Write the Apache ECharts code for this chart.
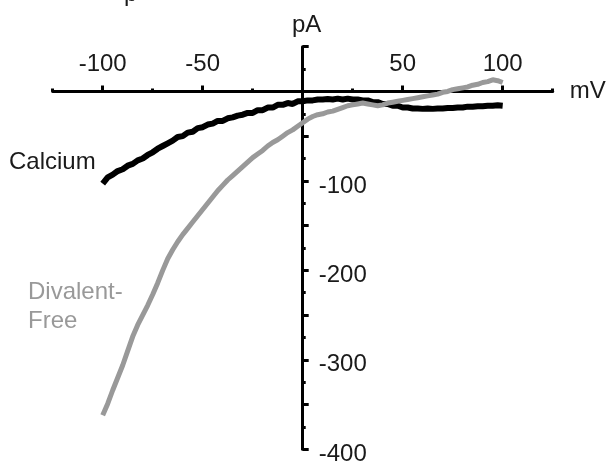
<!DOCTYPE html>
<html>
<head>
<meta charset="utf-8">
<script src="https://cdn.jsdelivr.net/npm/echarts@6/dist/echarts.min.js"></script>
<style>
  html, body { margin: 0; padding: 0; background: #fff; }
  #chart { width: 616px; height: 461px; }
</style>
</head>
<body>
<div id="chart"></div>
<script>
// membrane potential (mV), one sample every 2.5 mV
const volts = [
  -100, -97.5, -95, -92.5, -90, -87.5, -85, -82.5, -80, -77.5,
  -75, -72.5, -70, -67.5, -65, -62.5, -60, -57.5, -55, -52.5,
  -50, -47.5, -45, -42.5, -40, -37.5, -35, -32.5, -30, -27.5,
  -25, -22.5, -20, -17.5, -15, -12.5, -10, -7.5, -5, -2.5,
  0, 2.5, 5, 7.5, 10, 12.5, 15, 17.5, 20, 22.5,
  25, 27.5, 30, 32.5, 35, 37.5, 40, 42.5, 45, 47.5,
  50, 52.5, 55, 57.5, 60, 62.5, 65, 67.5, 70, 72.5,
  75, 77.5, 80, 82.5, 85, 87.5, 90, 92.5, 95, 97.5, 100
];

// current (pA)
const calcium = [
  -103, -96, -93, -89, -87, -83, -81, -77, -75, -71,
  -68, -64, -61, -58, -55, -51, -50, -46, -45, -41,
  -40, -37, -36, -33, -33, -30, -29, -27, -26, -24,
  -24, -21, -21, -18, -18, -15, -15, -13, -14, -11,
  -11, -10, -10, -9, -9, -8.5, -9, -8, -9, -8,
  -9, -9, -10, -10, -12, -12, -14, -14, -16, -16,
  -18, -18, -19, -19, -19.5, -19, -19.5, -19, -19, -18.5,
  -18.5, -18, -18, -17, -17, -16.5, -16.5, -16, -16, -15.5, -16
];

const divalentFree = [
  -362, -349, -334, -320, -306, -290, -274, -261, -250, -239,
  -227, -214, -200, -187, -177, -168, -160, -153, -146, -139,
  -132, -125, -118, -111, -105, -99, -94, -89, -84, -79,
  -74, -70, -66, -61, -57, -54, -50, -46, -43, -39,
  -35, -31, -28, -26, -25, -23, -22, -20, -18, -16,
  -15, -14, -13, -14, -15, -16, -15, -13, -12, -11,
  -10, -9, -8, -7, -6, -5, -4, -3, -1, 0,
  2, 3, 4, 5, 7, 8, 10, 11, 13, 12, 10
];

const xLabels = [-100, -50, 50, 100];
const yLabels = [-100, -200, -300, -400];

const FONT = '"Liberation Sans", Arial, sans-serif';
const TEXT = '#1a1a1a';
const GREY = '#999999';

function pairs(xs, ys) {
    return xs.map((x, i) => [x, ys[i]]);
}

var chart = echarts.init(document.getElementById('chart'));

// grid edges; the axes are pushed onto the zero lines with offset
const gridLeft = 52.7, gridRight = 63.3, gridTop = 46.7, gridBottom = 11.7;
const plotW = 616 - gridLeft - gridRight;
const plotH = 461 - gridTop - gridBottom;

chart.setOption({
    animation: false,
    backgroundColor: '#fff',
    grid: {
        left: gridLeft, right: gridRight, top: gridTop, bottom: gridBottom,
        containLabel: false,
        outerBoundsMode: 'none'
    },
    xAxis: {
        type: 'value',
        position: 'top',
        offset: -plotH * 50 / 450,
        min: -125,
        max: 125,
        interval: 50,
        name: 'mV',
        nameLocation: 'end',
        nameGap: 17,
        nameTextStyle: { fontFamily: FONT, fontSize: 24, color: TEXT },
        axisLine: { show: true, onZero: false, lineStyle: { color: '#000', width: 3 } },
        // ticks land on the odd 25s (counted from min); minor ticks fill the 50s
        axisTick: { show: true, length: 3, lineStyle: { color: '#000', width: 3 } },
        minorTick: { show: true, splitNumber: 2, length: 6, lineStyle: { color: '#000', width: 3 } },
        axisLabel: {
            customValues: xLabels,
            margin: 15,
            fontFamily: FONT, fontSize: 24, color: TEXT,
            formatter: v => xLabels.includes(v) ? String(v) : ''
        },
        splitLine: { show: false },
        minorSplitLine: { show: false }
    },
    yAxis: {
        type: 'value',
        position: 'right',
        offset: -plotW / 2,
        min: -400,
        max: 50,
        interval: 50,
        name: 'pA',
        nameLocation: 'end',
        nameGap: 9,
        nameTextStyle: { fontFamily: FONT, fontSize: 24, color: TEXT, align: 'center', padding: [0, 0, 0, 8] },
        axisLine: { show: true, onZero: false, lineStyle: { color: '#000', width: 3 } },
        axisTick: { show: true, length: 6, lineStyle: { color: '#000', width: 3 } },
        minorTick: { show: true, splitNumber: 2, length: 3, lineStyle: { color: '#000', width: 3 } },
        axisLabel: {
            margin: 16,
            verticalAlign: 'top',
            lineHeight: 10,
            fontFamily: FONT, fontSize: 24, color: TEXT,
            formatter: v => yLabels.includes(v) ? String(v) : ''
        },
        splitLine: { show: false },
        minorSplitLine: { show: false }
    },
    series: [
        {
            name: 'Calcium',
            type: 'line',
            data: pairs(volts, calcium),
            showSymbol: false,
            lineStyle: { color: '#000', width: 6 },
            z: 2
        },
        {
            name: 'Divalent-Free',
            type: 'line',
            data: pairs(volts, divalentFree),
            showSymbol: false,
            lineStyle: { color: GREY, width: 5 },
            z: 3
        }
    ],
    graphic: [
        {
            type: 'text', left: 9, top: 150,
            style: { text: 'Calcium', fontFamily: FONT, fontSize: 24, fill: TEXT }
        },
        {
            type: 'text', left: 28, top: 278,
            style: { text: 'Divalent-\nFree', fontFamily: FONT, fontSize: 24, lineHeight: 29, fill: GREY }
        },
        {
            // bottom of a letter cut off by the top edge
            type: 'text', left: 124, top: -17.5,
            style: { text: 'p', fontFamily: FONT, fontSize: 24, fill: TEXT }
        }
    ]
});
</script>
</body>
</html>
